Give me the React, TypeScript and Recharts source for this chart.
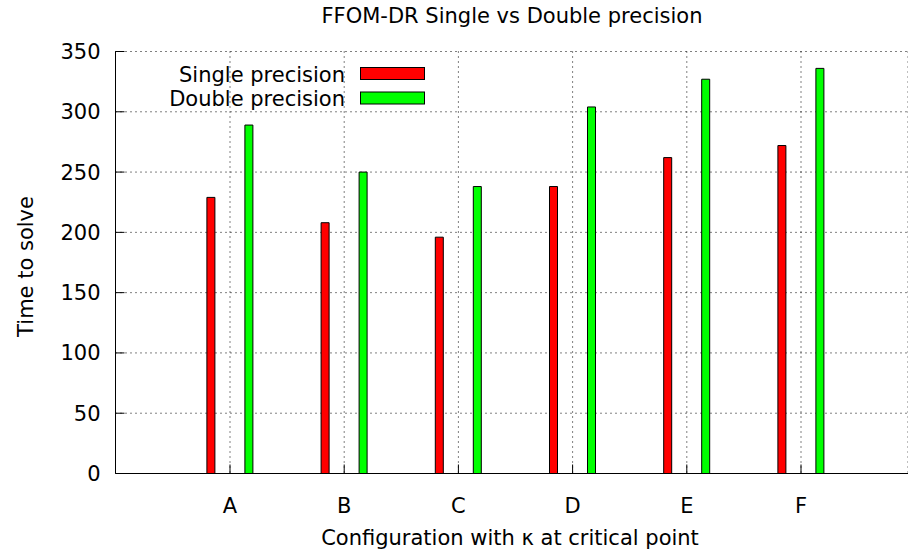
import { BarChart, Bar, XAxis, YAxis, CartesianGrid } from "recharts";

// Configurations on the x axis and the time to solve for each precision.
const configs = ["A", "B", "C", "D", "E", "F"];
const singlePrecision = [229, 208, 196, 238, 262, 272];
const doublePrecision = [289, 250, 238, 304, 327, 336];
const yTicks = [0, 50, 100, 150, 200, 250, 300, 350];
const seriesNames = ["Single precision", "Double precision"];
const seriesColors = ["#ff0000", "#00ff00"];

const FONT = "'DejaVu Sans', sans-serif";
const FS = 21;
const TICK_LEN = 9; // gnuplot style inward ticks

const W = 908;
const H = 550;
const PLOT_LEFT = 115.5;
const PLOT_TOP = 51.5;
const PLOT_BOTTOM = 473.5;

const data = configs.map((c, i) => ({
  config: c,
  single: singlePrecision[i],
  double: doublePrecision[i],
}));

function LeftTick(props: any) {
  const { x, y, payload } = props;
  return (
    <g>
      <line x1={x} x2={x + TICK_LEN} y1={y} y2={y} stroke="#000" />
      <text x={x - 15} y={y} dy="0.36em" textAnchor="end" fontSize={FS} fontFamily={FONT} fill="#000">
        {payload.value}
      </text>
    </g>
  );
}

function BottomTick(props: any) {
  const { x, y, payload } = props;
  return (
    <g>
      <line x1={x} x2={x} y1={y} y2={y - TICK_LEN} stroke="#000" />
      <text x={x} y={y + 39.5} textAnchor="middle" fontSize={FS} fontFamily={FONT} fill="#000">
        {payload.value}
      </text>
    </g>
  );
}

function TopTick(props: any) {
  const { x, y } = props;
  return <line x1={x} x2={x} y1={y} y2={y + TICK_LEN} stroke="#000" />;
}

export default function App() {
  return (
    <div style={{ position: "fixed", left: 0, top: 0, width: W, height: H, overflow: "hidden", background: "#fff" }}>
      <BarChart
        width={W}
        height={H}
        data={data}
        margin={{ top: PLOT_TOP, right: 0, left: 0, bottom: 0 }}
        barGap={30}
      >
        <CartesianGrid stroke="#000" strokeDasharray="1 4" vertical={true} horizontal={true} />
        <XAxis
          dataKey="config"
          height={H - PLOT_BOTTOM}
          interval={0}
          padding={{ left: 57.4, right: 49.9 }}
          axisLine={{ stroke: "#000" }}
          tickLine={false}
          tickSize={0}
          tickMargin={0}
          tick={<BottomTick />}
        />
        <XAxis
          xAxisId="top"
          orientation="top"
          dataKey="config"
          height={0}
          interval={0}
          padding={{ left: 57.4, right: 49.9 }}
          axisLine={{ stroke: "#000" }}
          tickLine={false}
          tickSize={0}
          tickMargin={0}
          tick={<TopTick />}
        />
        <YAxis
          width={PLOT_LEFT}
          domain={[0, 350]}
          ticks={yTicks}
          interval={0}
          axisLine={{ stroke: "#000" }}
          tickLine={false}
          tickSize={0}
          tickMargin={0}
          tick={<LeftTick />}
        />
        <Bar dataKey="single" name={seriesNames[0]} fill={seriesColors[0]} stroke="#000" strokeWidth={1} barSize={8} isAnimationActive={false} />
        <Bar dataKey="double" name={seriesNames[1]} fill={seriesColors[1]} stroke="#000" strokeWidth={1} barSize={8} isAnimationActive={false} />
      </BarChart>

      {/* title, axis labels and the key, drawn over the chart */}
      <svg width={W} height={H} style={{ position: "absolute", left: 0, top: 0, pointerEvents: "none" }}>
        <g fontFamily={FONT} fontSize={FS} fill="#000">
          <text x={512} y={22.5} textAnchor="middle">FFOM-DR Single vs Double precision</text>
          <text x={510} y={545} textAnchor="middle">Configuration with κ at critical point</text>
          <text x={33} y={266.5} textAnchor="middle" transform="rotate(-90 33 266.5)">Time to solve</text>
          {seriesNames.map((name, i) => (
            <g key={name}>
              <text x={345} y={81.5 + i * 24} textAnchor="end">{name}</text>
              <rect x={360.5} y={67.5 + i * 24.5} width={64} height={12} fill={seriesColors[i]} stroke="#000" />
            </g>
          ))}
        </g>
      </svg>
    </div>
  );
}
